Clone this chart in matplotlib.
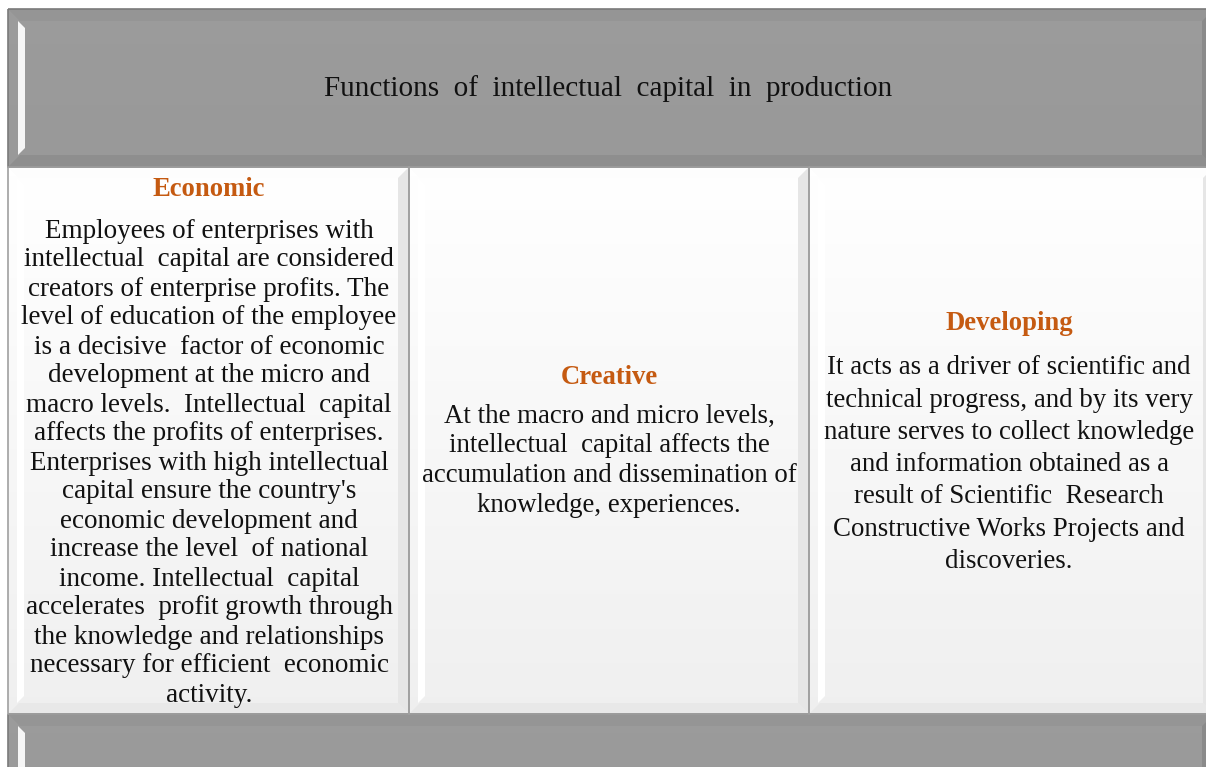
import numpy as np
import matplotlib.pyplot as plt
from matplotlib.patches import Polygon, Rectangle

plt.rcParams['font.family'] = ['Liberation Serif', 'DejaVu Serif']

title = 'Functions  of  intellectual  capital  in  production'
headings = ['Economic', 'Creative', 'Developing']
bodies = [
    ['Employees of enterprises with', 'intellectual  capital are considered',
     'creators of enterprise profits. The', 'level of education of the employee',
     'is a decisive  factor of economic', 'development at the micro and',
     'macro levels.  Intellectual  capital', 'affects the profits of enterprises.',
     'Enterprises with high intellectual', "capital ensure the country's",
     'economic development and', 'increase the level  of national',
     'income. Intellectual  capital', 'accelerates  profit growth through',
     'the knowledge and relationships', 'necessary for efficient  economic',
     'activity.'],
    ['At the macro and micro levels,', 'intellectual  capital affects the',
     'accumulation and dissemination of', 'knowledge, experiences.'],
    ['It acts as a driver of scientific and', 'technical progress, and by its very',
     'nature serves to collect knowledge', 'and information obtained as a',
     'result of Scientific  Research', 'Constructive Works Projects and',
     'discoveries.'],
]
# layout (pixels)
head_y = [189, 377, 323]
body_y0 = [231, 416, 368]
body_dy = [29, 30, 32.2]
body_fs = [19.5, 19.4, 19.4]
col_x = [8, 409, 809, 1214]
col_cx = [209, 609, 1009]

fig = plt.figure(figsize=(12.06, 7.67), dpi=100)
ax = fig.add_axes([0, 0, 1, 1])
ax.set_xlim(0, 1206)
ax.set_ylim(767, 0)
ax.axis('off')


def bevel_box(x0, y0, x1, y1, top, bottom, right, edge, hl, b=10, grad=None):
    g = np.linspace(0, 1, 64).reshape(-1, 1)
    c0, c1 = np.array(grad[0]), np.array(grad[1])
    img = c0 + (c1 - c0) * g[..., None]
    img = np.repeat(img, 2, axis=1)
    ax.imshow(img, extent=(x0, x1, y1, y0), aspect='auto', zorder=1)
    ax.add_patch(Polygon([(x0, y0), (x1, y0), (x1 - b, y0 + b), (x0 + b, y0 + b)], fc=top, ec='none', zorder=2))
    ax.add_patch(Polygon([(x0, y1), (x1, y1), (x1 - b, y1 - b), (x0 + b, y1 - b)], fc=bottom, ec='none', zorder=2))
    ax.add_patch(Polygon([(x1, y0), (x1 - b, y0 + b), (x1 - b, y1 - b), (x1, y1)], fc=right, ec='none', zorder=2))
    # thin highlight on the inner left edge
    ax.add_patch(Polygon([(x0 + b - 2, y0 + b), (x0 + b + 5, y0 + b + 7), (x0 + b + 5, y1 - b - 7), (x0 + b - 2, y1 - b)],
                         fc=hl, ec='none', zorder=2))
    ax.add_patch(Rectangle((x0, y0), x1 - x0, y1 - y0, fc='none', ec=edge, lw=1.2, zorder=3))


gray = ((0.61, 0.61, 0.61), (0.60, 0.60, 0.60))
# gray header and footer
bevel_box(8, 9, 1214, 167, '#959595', '#8e8e8e', '#8a8a8a', '#7a7a7a', '#f6f6f6', b=12, grad=gray)
bevel_box(8, 714, 1214, 800, '#959595', '#8e8e8e', '#8a8a8a', '#7a7a7a', '#f6f6f6', b=12, grad=gray)

# white columns
for i in range(3):
    bevel_box(col_x[i], 167, col_x[i + 1], 714, '#fdfdfd', '#e8e8e8', '#e6e6e6', '#a0a0a0', '#ffffff',
              b=11, grad=((1.0, 1.0, 1.0), (0.94, 0.94, 0.94)))

ax.text(608, 89, title, ha='center', va='center', fontsize=21, color='#111111', zorder=5)

for i in range(3):
    ax.text(col_cx[i], head_y[i], headings[i], ha='center', va='center', fontsize=19.2,
            fontweight='bold', color='#c55a11', zorder=5)
    for k, line in enumerate(bodies[i]):
        ax.text(col_cx[i], body_y0[i] + k * body_dy[i], line, ha='center', va='center',
                fontsize=body_fs[i], color='#111111', zorder=5)

fig.savefig('out.png', dpi=100)
